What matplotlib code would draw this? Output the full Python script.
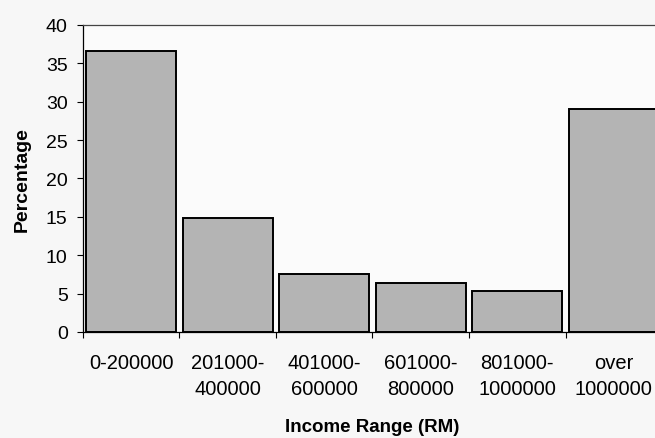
import numpy as np
import matplotlib.pyplot as plt

# income brackets (RM) and share of respondents in each
categories = ['0-200000', '201000-\n400000', '401000-\n600000',
              '601000-\n800000', '801000-\n1000000', 'over\n1000000']
percentages = [36.6, 14.9, 7.6, 6.4, 5.4, 29.1]
y_ticks = [0, 5, 10, 15, 20, 25, 30, 35, 40]

plt.rcParams['font.family'] = ['Liberation Sans', 'DejaVu Sans']

fig = plt.figure(figsize=(6.55, 4.39), dpi=100, facecolor='#f7f7f7')
ax = fig.add_axes([0.1267, 0.2415, 0.884, 0.6993])
ax.set_facecolor('#fbfbfb')

x = np.arange(len(categories))
ax.bar(x, percentages, width=0.93, color='#b4b4b4', edgecolor='black',
       linewidth=1.4, zorder=2)

ax.set_xlim(-0.5, len(categories) - 0.5)
ax.set_ylim(0, 40)
ax.set_yticks(y_ticks)
ax.set_xticks(x)
ax.set_xticklabels(categories, fontsize=14.5, linespacing=1.5)
ax.set_xticks(np.arange(len(categories) + 1) - 0.5, minor=True)
ax.tick_params(axis='x', which='major', length=0, pad=15)
ax.tick_params(axis='x', which='minor', length=4, width=0.8)
ax.tick_params(axis='y', length=4, width=0.8, labelsize=14, pad=7)

for side in ['left', 'top', 'bottom', 'right']:
    ax.spines[side].set_linewidth(0.9)
ax.spines['top'].set_color('#444444')

ax.set_ylabel('Percentage', fontsize=14, fontweight='bold', labelpad=11)
ax.set_xlabel('Income Range (RM)', fontsize=13.5, fontweight='bold', labelpad=14)

fig.savefig('out.png', dpi=100, facecolor=fig.get_facecolor())
